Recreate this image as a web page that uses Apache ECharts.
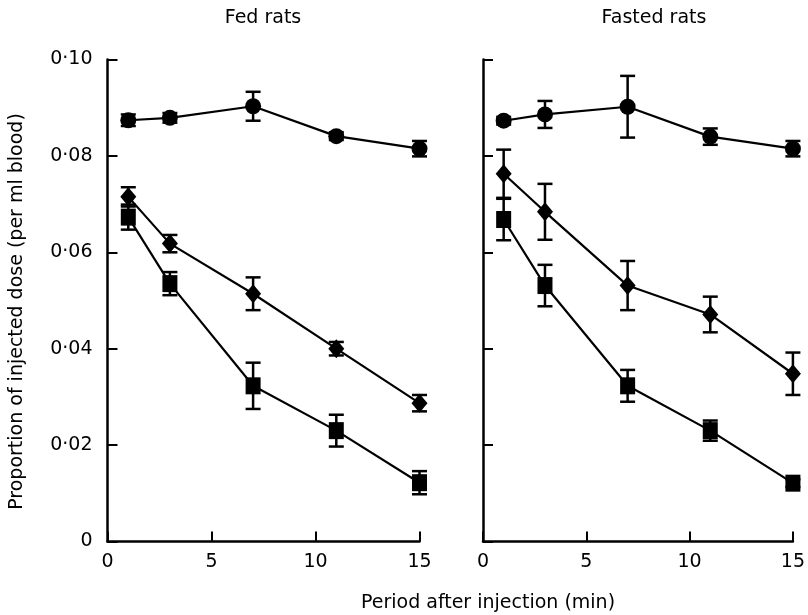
<!DOCTYPE html>
<html>
<head>
<meta charset="utf-8">
<script src="https://cdn.jsdelivr.net/npm/echarts@6/dist/echarts.min.js"></script>
<style>
html,body{margin:0;padding:0;background:#fff;}
#chart{width:808px;height:615px;}
</style>
</head>
<body>
<div id="chart"></div>
<script>
// ---- data ----
const times = [1, 3, 7, 11, 15];
const xTickLabels = ['0', '5', '10', '15'];
const yTickLabels = ['0', '0·02', '0·04', '0·06', '0·08', '0·10'];
const panelTitles = ['Fed rats', 'Fasted rats'];
const xAxisTitle = 'Period after injection (min)';
const yAxisTitle = 'Proportion of injected dose (per ml blood)';

const fedCircle = [0.0874, 0.0879, 0.0903, 0.0841, 0.0815];
const fedCircleErr = [0.0012, 0.0010, 0.0030, 0.0008, 0.0016];
const fedDiamond = [0.0715, 0.0618, 0.0514, 0.0400, 0.0287];
const fedDiamondErr = [0.0020, 0.0018, 0.0034, 0.0014, 0.0017];
const fedSquare = [0.0673, 0.0535, 0.0323, 0.0230, 0.0122];
const fedSquareErr = [0.0026, 0.0024, 0.0048, 0.0033, 0.0024];

const fastCircle = [0.0873, 0.0886, 0.0902, 0.0840, 0.0815];
const fastCircleErr = [0.0008, 0.0028, 0.0064, 0.0017, 0.0016];
const fastDiamond = [0.0763, 0.0684, 0.0531, 0.0471, 0.0348];
const fastDiamondErr = [0.0050, 0.0058, 0.0051, 0.0037, 0.0044];
const fastSquare = [0.0668, 0.0531, 0.0323, 0.0230, 0.0121];
const fastSquareErr = [0.0043, 0.0043, 0.0033, 0.0021, 0.0008];

// ---- chart ----
const FONT = 'DejaVu Sans';
const chart = echarts.init(document.getElementById('chart'));

function lineSeries(vals, symbol, size, idx) {
  return {
    type: 'line',
    xAxisIndex: idx, yAxisIndex: idx,
    data: times.map((t, i) => [t, vals[i]]),
    symbol: symbol, symbolSize: size,
    showAllSymbol: true,
    clip: false,
    itemStyle: { color: '#000' },
    lineStyle: { color: '#000', width: 2.2 },
    z: 3
  };
}
function errSeries(vals, errs, idx) {
  return {
    type: 'custom',
    xAxisIndex: idx, yAxisIndex: idx,
    clip: false,
    data: times.map((t, i) => [t, vals[i] - errs[i], vals[i] + errs[i]]),
    encode: { x: 0, y: [1, 2] },
    renderItem: function (params, api) {
      const x = api.value(0);
      const lo = api.coord([x, api.value(1)]);
      const hi = api.coord([x, api.value(2)]);
      const w = 7.5;
      const st = { stroke: '#000', lineWidth: 2.5 };
      return {
        type: 'group',
        children: [
          { type: 'line', shape: { x1: lo[0], y1: lo[1], x2: hi[0], y2: hi[1] }, style: st },
          { type: 'line', shape: { x1: lo[0] - w, y1: lo[1], x2: lo[0] + w, y2: lo[1] }, style: st },
          { type: 'line', shape: { x1: hi[0] - w, y1: hi[1], x2: hi[0] + w, y2: hi[1] }, style: st }
        ]
      };
    },
    z: 2
  };
}

function xAxis(idx) {
  return {
    type: 'value', gridIndex: idx, min: 0, max: 15, interval: 5,
    axisLine: { show: true, lineStyle: { color: '#000', width: 2.5 } },
    axisTick: { show: true, inside: true, length: 10, lineStyle: { color: '#000', width: 2 } },
    splitLine: { show: false },
    axisLabel: {
      margin: 11, color: '#000', fontFamily: FONT, fontSize: 19,
      formatter: v => xTickLabels[Math.round(v / 5)]
    }
  };
}
function yAxis(idx) {
  const ax = {
    type: 'value', gridIndex: idx, min: 0, max: 0.1, interval: 0.02,
    axisLine: { show: true, lineStyle: { color: '#000', width: 2.5 } },
    axisTick: { show: true, inside: true, length: 10, lineStyle: { color: '#000', width: 2 } },
    splitLine: { show: false },
    axisLabel: {
      show: idx === 0, margin: 15, color: '#000', fontFamily: FONT, fontSize: 19,
      padding: [9, 0, 0, 0],
      formatter: v => yTickLabels[Math.round(v / 0.02)]
    }
  };
  if (idx === 0) {
    ax.name = yAxisTitle;
    ax.nameLocation = 'middle';
    ax.nameGap = 81;
    ax.nameRotate = 90;
    ax.nameTextStyle = { color: '#000', fontFamily: FONT, fontSize: 19, padding: [0, 0, 0, -22] };
  }
  return ax;
}

function label(text, x, y) {
  return {
    type: 'text', x: x, y: y,
    style: { text: text, fill: '#000', fontFamily: FONT, fontSize: 19, align: 'center', verticalAlign: 'middle' }
  };
}

const option = {
  backgroundColor: '#fff',
  animation: false,
  grid: [
    { left: 107.5, right: 388.5, top: 59.5, bottom: 73.5 },
    { left: 483, right: 14, top: 59.5, bottom: 73.5 }
  ],
  xAxis: [xAxis(0), xAxis(1)],
  yAxis: [yAxis(0), yAxis(1)],
  graphic: [
    label(panelTitles[0], 263, 18),
    label(panelTitles[1], 654, 18),
    label(xAxisTitle, 488, 603)
  ],
  series: [
    errSeries(fedCircle, fedCircleErr, 0),
    errSeries(fedDiamond, fedDiamondErr, 0),
    errSeries(fedSquare, fedSquareErr, 0),
    lineSeries(fedCircle, 'circle', 16, 0),
    lineSeries(fedDiamond, 'diamond', [16, 19], 0),
    lineSeries(fedSquare, 'rect', [15, 17], 0),
    errSeries(fastCircle, fastCircleErr, 1),
    errSeries(fastDiamond, fastDiamondErr, 1),
    errSeries(fastSquare, fastSquareErr, 1),
    lineSeries(fastCircle, 'circle', 16, 1),
    lineSeries(fastDiamond, 'diamond', [16, 19], 1),
    lineSeries(fastSquare, 'rect', [15, 17], 1)
  ]
};
chart.setOption(option);
</script>
</body>
</html>
